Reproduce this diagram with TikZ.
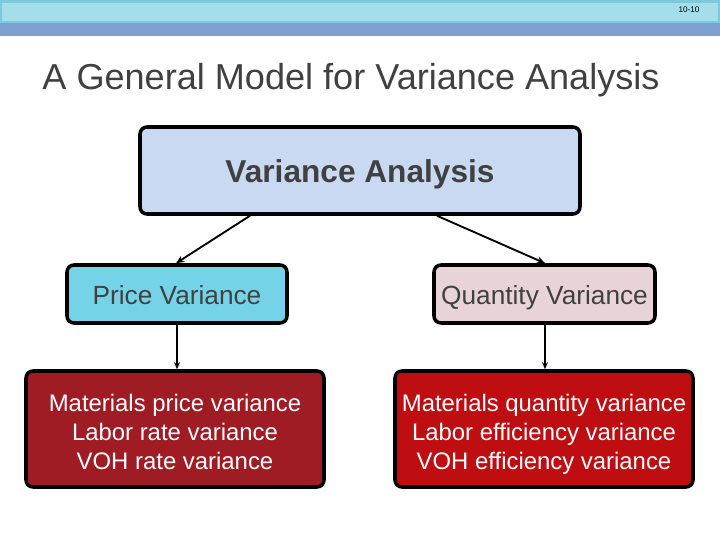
\documentclass[tikz,border=0pt]{standalone}
\usepackage{fontspec}
\setmainfont{Liberation Sans}
\usetikzlibrary{arrows.meta}

\definecolor{bandblue}{HTML}{A4DEEA}
\definecolor{bandedge}{HTML}{7EC8DC}
\definecolor{stripeblue}{HTML}{7E9FCF}
\definecolor{textgray}{HTML}{404040}
\definecolor{topfill}{HTML}{C9D9F2}
\definecolor{pricefill}{HTML}{75D3E8}
\definecolor{qtyfill}{HTML}{E8D3D8}
\definecolor{leftred}{HTML}{A01C24}
\definecolor{rightred}{HTML}{BE0E12}

\newcommand{\topline}{\rule{0pt}{27pt}}

\tikzset{
  box/.style={draw=black,line width=3pt,rounded corners=6pt,align=center,inner sep=0pt},
  midbox/.style={box,minimum height=58*0.03cm,text=textgray,
    font=\fontsize{22.4}{26}\selectfont,text height=25pt,text depth=7.8pt},
  listbox/.style={box,minimum width=298*0.03cm,minimum height=116*0.03cm,text=white,
    font=\fontsize{20.4}{25}\selectfont},
  link/.style={-{Stealth[length=7pt,width=6pt]},line width=1.6pt},
  drop/.style={-{Stealth[length=6pt,width=5pt]},line width=1.2pt}
}

\begin{document}
\begin{tikzpicture}[x=0.03cm,y=-0.03cm]
  \useasboundingbox (0,0) rectangle (720,540);
  % header band
  \fill[bandedge] (0,0) rectangle (720,23);
  \fill[bandblue] (2,3) rectangle (718,21);
  \fill[stripeblue] (0,23) rectangle (720,36);
  \node[font=\fontsize{7}{8}\selectfont] (pagenum) at (689,10) {10-10};
  % title
  \node[text=textgray,font=\fontsize{30.8}{36}\selectfont] (title) at (351,80)
    {A General Model for Variance Analysis};

  \node[box,fill=topfill,minimum width=440*0.03cm,minimum height=87*0.03cm,
    text=textgray,font=\fontsize{27}{32}\bfseries\selectfont,
    text height=26.5pt,text depth=5.7pt] (va) at (360,170.5) {Variance Analysis};
  \node[midbox,fill=pricefill,minimum width=220*0.03cm] (pv) at (177,294) {Price Variance};
  \node[midbox,fill=qtyfill,minimum width=221*0.03cm] (qv) at (544.5,294) {Quantity Variance};
  \node[listbox,fill=leftred] (pd) at (175,429)
    {\topline Materials price variance\\Labor rate variance\\VOH rate variance\strut};
  \node[listbox,fill=rightred] (qd) at (544,429)
    {\topline Materials quantity variance\\Labor efficiency variance\\VOH efficiency variance\strut};

  \draw[link] (va.south -| 250,0) -- (pv.north -| 176,0);
  \draw[link] (va.south -| 437,0) -- (qv.north -| 545,0);
  \draw[drop] (pv.south) -- (pd.north -| pv.south);
  \draw[drop] (qv.south -| 545,0) -- (qd.north -| 545,0);
\end{tikzpicture}
\end{document}
